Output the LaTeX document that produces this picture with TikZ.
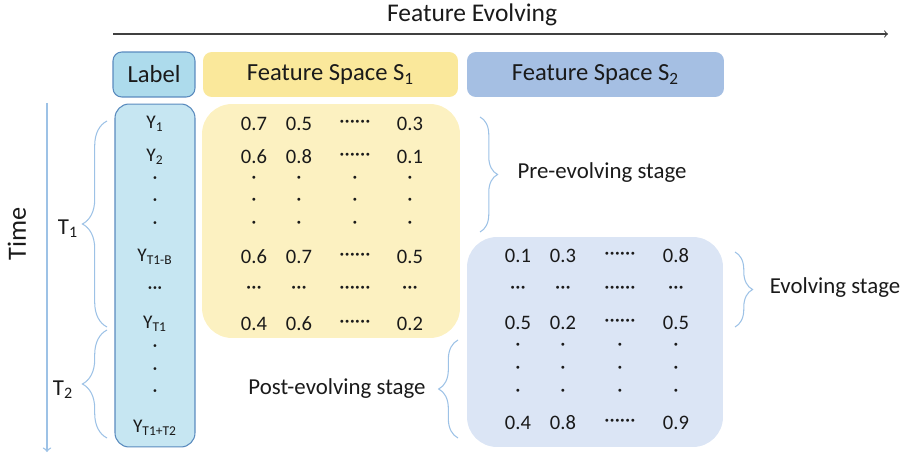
\documentclass[tikz,border=0pt]{standalone}
\usepackage{fontspec}
\setmainfont{Carlito}
\usetikzlibrary{decorations.pathreplacing}
\definecolor{headblue}{HTML}{ADDBEC}
\definecolor{colblue}{HTML}{C6E6F2}
\definecolor{edgeblue}{HTML}{5A8BBE}
\definecolor{headyellow}{HTML}{FAE89B}
\definecolor{datayellow}{HTML}{FCF1C1}
\definecolor{headsteel}{HTML}{A5BFE3}
\definecolor{datasteel}{HTML}{DBE5F5}
\definecolor{bracecol}{HTML}{9DC2E6}
\definecolor{txt}{HTML}{1A1A1A}
\begin{document}
\begin{tikzpicture}[x=0.02cm,y=-0.02cm,>=to,text=txt,
    big/.style={font=\fontsize{13}{15}\selectfont},
    val/.style={font=\fontsize{11.7}{13}\selectfont,inner sep=0pt},
    lab/.style={font=\fontsize{11}{13}\selectfont,inner sep=0pt},
    hbox/.style={font=\fontsize{14}{16}\selectfont,rounded corners=5pt,minimum height=0.9cm,inner sep=0pt},
    curly/.style={draw=bracecol,line width=0.6pt,decorate,decoration={brace,amplitude=#1}}]
    \useasboundingbox (0,0) rectangle (903,456);
    % axes
    \node[font=\fontsize{14.5}{16}\selectfont] (evo) at (472,15) {Feature Evolving};
    \coordinate (evo start) at (113,34);
    \coordinate (evo end) at (888,34);
    \draw[->,draw=black!75,line width=0.6pt] (evo start) -- (evo end);
    \node[rotate=90,font=\fontsize{15}{17}\selectfont] (time) at (17,234) {Time};
    \coordinate (time start) at (47,103);
    \coordinate (time end) at (47,452);
    \draw[->,draw=bracecol,line width=0.8pt] (time start) -- (time end);
    % headers
    \node[hbox,fill=headblue,draw=edgeblue,line width=0.6pt,minimum width=1.64cm] (label) at (154,74.5) {Label};
    \node[hbox,fill=headyellow,minimum width=5.1cm] (s1) at (330.5,74.5) {Feature Space S\textsubscript{1}};
    \node[hbox,fill=headsteel,minimum width=5.14cm] (s2) at (595.5,74.5) {Feature Space S\textsubscript{2}};
    % data blocks
    \node[fill=colblue,draw=edgeblue,line width=0.6pt,rounded corners=8pt,minimum width=1.6cm,minimum height=6.86cm] (ycol) at (155,275.5) {};
    \node[fill=datayellow,rounded corners=0.6cm,minimum width=5.16cm,minimum height=4.68cm] (old) at (331,221) {};
    \node[fill=datasteel,rounded corners=0.6cm,minimum width=5.12cm,minimum height=4.2cm] (new) at (595,342) {};
    % labels
    \foreach \n/\y/\t in {1/124/Y\textsubscript{1},2/157/Y\textsubscript{2},3/180/·,4/202/·,5/225/·,
        6/257/Y\textsubscript{T1-B},7/290/···,8/324/Y\textsubscript{T1},9/348/·,10/371/·,11/393/·,
        12/428/Y\textsubscript{T1+T2}}
      \node[lab] (y\n) at (155,\y) {\t};
    % feature space S1 values
    \foreach \n/\y/\a/\b/\c/\d in {1/124/0.7/0.5/······/0.3,2/157/0.6/0.8/······/0.1,
        3/180/·/·/·/·,4/202/·/·/·/·,5/225/·/·/·/·,6/257/0.6/0.7/······/0.5,
        7/290/···/···/······/···,8/324/0.4/0.6/······/0.2} {
      \node[val] (p\n a) at (254,\y) {\a};
      \node[val] (p\n b) at (299,\y) {\b};
      \node[val] (p\n c) at (355,\y) {\c};
      \node[val] (p\n d) at (410,\y) {\d};
    }
    % feature space S2 values
    \foreach \n/\y/\a/\b/\c/\d in {1/256/0.1/0.3/······/0.8,2/290/···/···/······/···,
        3/323/0.5/0.2/······/0.5,4/347/·/·/·/·,5/370/·/·/·/·,6/393/·/·/·/·,
        7/423/0.4/0.8/······/0.9} {
      \node[val] (q\n a) at (518,\y) {\a};
      \node[val] (q\n b) at (563,\y) {\b};
      \node[val] (q\n c) at (620,\y) {\c};
      \node[val] (q\n d) at (676,\y) {\d};
    }
    % braces
    \coordinate (t1 top) at (107,121);
    \coordinate (t1 bot) at (107,327);
    \coordinate (t2 top) at (107,330);
    \coordinate (t2 bot) at (107,438);
    \draw[curly=14pt] (t1 bot) -- (t1 top);
    \draw[curly=14pt] (t2 bot) -- (t2 top);
    \node[big] (T1) at (68,229) {T\textsubscript{1}};
    \node[big] (T2) at (63,390) {T\textsubscript{2}};
    \coordinate (pre top) at (480,117);
    \coordinate (pre bot) at (480,232);
    \draw[curly=10pt] (pre top) -- (pre bot);
    \node[big] (pre) at (602,173) {Pre-evolving stage};
    \coordinate (ev top) at (735,252);
    \coordinate (ev bot) at (735,327);
    \draw[curly=10pt] (ev top) -- (ev bot);
    \node[big] (ev) at (835,288) {Evolving stage};
    \coordinate (post top) at (458,340);
    \coordinate (post bot) at (458,438);
    \draw[curly=11pt] (post bot) -- (post top);
    \node[big] (post) at (337,389) {Post-evolving stage};
\end{tikzpicture}
\end{document}
